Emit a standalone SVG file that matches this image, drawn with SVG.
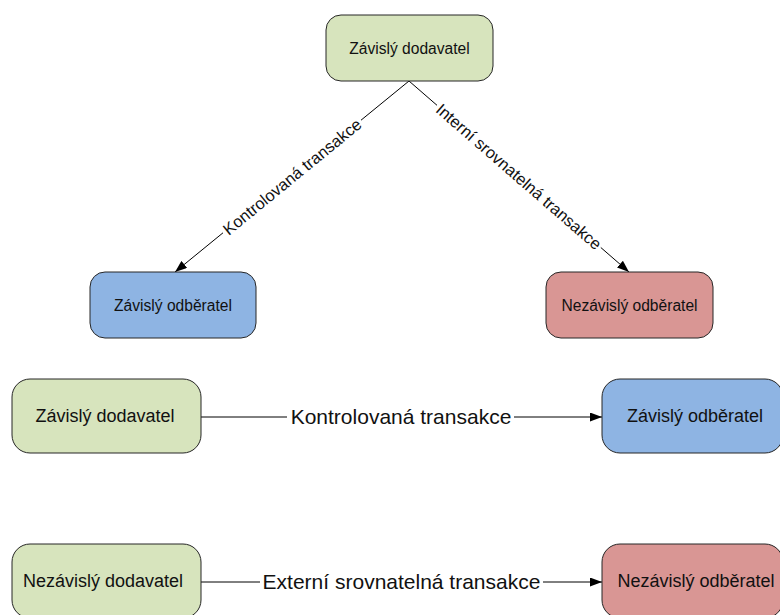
<svg xmlns="http://www.w3.org/2000/svg" width="780" height="615" viewBox="0 0 780 615">
<style>
.box{stroke:#262626;stroke-width:1}
.g{fill:#d7e4bd}
.b{fill:#8eb4e3}
.r{fill:#d99694}
text{font-family:"Liberation Sans",Arial,sans-serif;fill:#111;text-anchor:middle;dominant-baseline:central}
.s{font-size:15.6px}
.m{font-size:18px}
.l{font-size:21px}
.d{font-size:16.5px}
.c{fill:none;stroke:#000;stroke-width:1;marker-end:url(#ah)}
</style>
<defs>
<marker id="ah" markerWidth="12" markerHeight="9" refX="12" refY="4.5" orient="auto" markerUnits="userSpaceOnUse">
<path d="M0,0 L12,4.5 L0,9 Z" fill="#000"/>
</marker>
</defs>
<g id="connectors">
<path class="c" d="M409,81 L361,120.2 M223,232.8 L175,272"/>
<text class="d" transform="translate(292,176.5) rotate(-39.22)">Kontrolovaná transakce</text>
<path class="c" d="M409,81 L437,105.3 M600.8,247.5 L629,272"/>
<text class="d" transform="translate(519,176.5) rotate(40.96)">Interní srovnatelná transakce</text>
<path class="c" d="M201,417 H287 M514,417 H602"/>
<text class="l" x="401" y="416">Kontrolovaná transakce</text>
<path class="c" d="M201,582 H260 M543,582 H602"/>
<text class="l" x="401.5" y="581">Externí srovnatelná transakce</text>
</g>
<g id="n1"><rect class="box g" x="326" y="15" width="167" height="66" rx="15"/><text class="s" x="409.5" y="48">Závislý dodavatel</text></g>
<g id="n2"><rect class="box b" x="90" y="272" width="166" height="66" rx="15"/><text class="s" x="173" y="305">Závislý odběratel</text></g>
<g id="n3"><rect class="box r" x="546" y="272" width="167" height="66" rx="15"/><text class="s" x="629.5" y="305">Nezávislý odběratel</text></g>
<g id="n4"><rect class="box g" x="12" y="379" width="189" height="74" rx="18"/><text class="m" x="105" y="416">Závislý dodavatel</text></g>
<g id="n5"><rect class="box b" x="602" y="379" width="181" height="74" rx="18"/><text class="m" x="695" y="416">Závislý odběratel</text></g>
<g id="n6"><rect class="box g" x="12" y="544" width="189" height="74" rx="18"/><text class="m" x="103" y="581">Nezávislý dodavatel</text></g>
<g id="n7"><rect class="box r" x="602" y="544" width="181" height="74" rx="18"/><text class="m" x="696" y="581">Nezávislý odběratel</text></g>
</svg>
